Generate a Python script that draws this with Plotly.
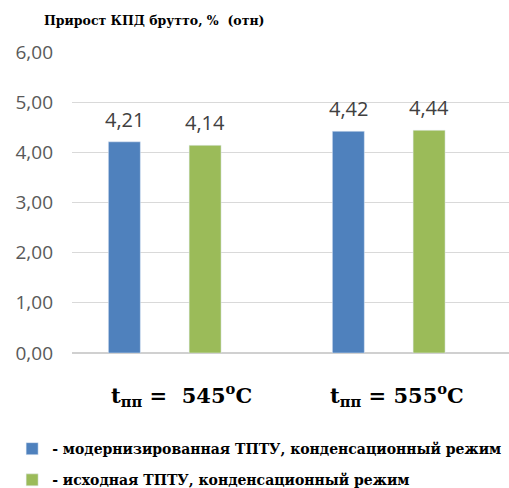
import plotly.graph_objects as go

# Data
groups = [0, 1]
group_labels = [
    "<b>t</b><sub><b>пп</b></sub><b> =  545</b><sup><b>o</b></sup><b>C</b>",
    "<b>t</b><sub><b>пп</b></sub><b> = 555</b><sup><b>o</b></sup><b>C</b>",
]
series_names = [
    "<b>- модернизированная ТПТУ, конденсационный режим</b>",
    "<b>- исходная ТПТУ, конденсационный режим</b>",
]
modernized = [4.21, 4.42]
original = [4.14, 4.44]
y_ticks = [0, 1, 2, 3, 4, 5, 6]

colors = ["#4F81BD", "#9BBB59"]
sans = "Open Sans"
serif = "DejaVu Serif"
bargap = 0.279


def fmt(v):
    return f"{v:.2f}".replace(".", ",")


fig = go.Figure()
for i, (name, vals, col) in enumerate(zip(series_names, [modernized, original], colors)):
    fig.add_trace(go.Bar(
        x=groups, y=vals, name=name, marker_color=col, legendgroup=f"g{i}",
    ))

annotations = [
    dict(text="<b>Прирост КПД брутто, %  (отн)</b>", xref="paper", yref="paper",
         x=-0.0686, y=1.106, xanchor="left", yanchor="middle", showarrow=False,
         font=dict(family=serif, size=12.5, color="black")),
]
# value labels above each bar
slot = (1 - bargap) / 2
for k, vals in enumerate([modernized, original]):
    off = (k - 0.5) * slot
    for g, v in zip(groups, vals):
        annotations.append(dict(
            text=fmt(v), x=g + off, xref="x", y=v, yref="y", yshift=7,
            xanchor="center", yanchor="bottom", showarrow=False,
            font=dict(family=sans, size=20, color="#404040"),
        ))
for g, lbl, shift in zip(groups, group_labels, [17, 8]):
    annotations.append(dict(
        text=lbl, x=g, xref="x", y=-0.14, yref="paper", xshift=shift,
        xanchor="center", yanchor="middle", showarrow=False,
        font=dict(family=serif, size=21, color="black"),
    ))

fig.update_layout(
    width=509, height=488,
    margin=dict(l=72, r=0, t=52, b=135, autoexpand=False),
    paper_bgcolor="white", plot_bgcolor="white",
    separators=", ",
    barmode="group", bargap=bargap, bargroupgap=0.604,
    showlegend=True,
    legend=dict(
        x=-0.137, y=-0.266, xanchor="left", yanchor="top",
        font=dict(family=serif, size=14, color="black"),
        tracegroupgap=10, bgcolor="rgba(0,0,0,0)",
    ),
    annotations=annotations,
    xaxis=dict(range=[-0.414, 1.537], showticklabels=False, showgrid=False,
               zeroline=False, showline=False, ticks=""),
    yaxis=dict(range=[0, 6], tickvals=y_ticks, tickformat=".2f",
               showgrid=True, gridcolor="#D9D9D9", gridwidth=1,
               zeroline=True, zerolinecolor="#D0D0D0", zerolinewidth=2,
               showline=False, ticks="", ticklabelstandoff=18,
               tickfont=dict(family=sans, size=19, color="#595959")),
)

fig.write_html("out.html")
